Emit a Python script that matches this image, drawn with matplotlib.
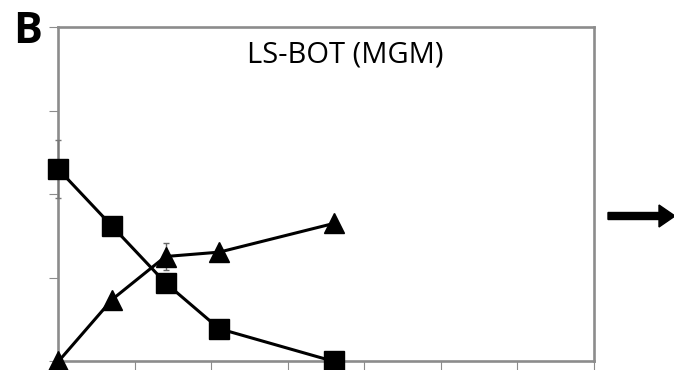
import matplotlib
matplotlib.use("Agg")
import matplotlib.pyplot as plt
from matplotlib.patches import FancyArrow
from matplotlib.transforms import IdentityTransform

# sampling days and the two measured series
days = [0, 7, 14, 21, 36]
squares = [57.5, 40.5, 23.5, 9.8, 0.0]
triangles = [0.0, 18.5, 31.4, 32.7, 41.3]
# error bars (only two points carry visible ones)
sq_err = [8.7, 0, 0, 0, 0]
tri_err = [0, 0, 4.1, 0, 0]

plt.rcParams['font.family'] = ['Open Sans', 'DejaVu Sans']

fig = plt.figure(figsize=(6.74, 3.70), dpi=100)
ax = fig.add_axes([0.0867, 0.0232, 0.7946, 0.9030])

grey = '#8c8c8c'

ax.errorbar(days, squares, yerr=sq_err, color='black', lw=2.2, marker='s',
            ms=14.4, ecolor='#777777', elinewidth=1, capsize=2.5, capthick=1,
            clip_on=False, zorder=3)
ax.errorbar(days, triangles, yerr=tri_err, color='black', lw=2.2, marker='^',
            ms=15, ecolor='#666666', elinewidth=1, capsize=2.5, capthick=1,
            clip_on=False, zorder=3)

ax.set_xlim(0, 70)
ax.set_ylim(0, 100)
ax.set_xticks(range(0, 71, 10))
ax.set_yticks(range(0, 101, 25))
ax.set_xticklabels([])
ax.set_yticklabels([])
ax.tick_params(axis='both', direction='out', length=6.5, width=0.8, color=grey)

for sp in ax.spines.values():
    sp.set_color(grey)
    sp.set_linewidth(1.9)
    sp.set_zorder(2)

ax.text(0.536, 0.895, 'LS-BOT (MGM)', transform=ax.transAxes, ha='center',
        va='baseline', fontsize=21)

fig.text(0.020, 0.884, 'B', fontsize=31, fontweight='bold', ha='left',
         va='baseline')

# arrow on the right side, in pixel coordinates
arrow = FancyArrow(608, 154, 51, 0, width=7, head_width=22, head_length=16,
                   length_includes_head=False, color='black',
                   transform=IdentityTransform())
fig.add_artist(arrow)

fig.savefig('out.png', dpi=100)
